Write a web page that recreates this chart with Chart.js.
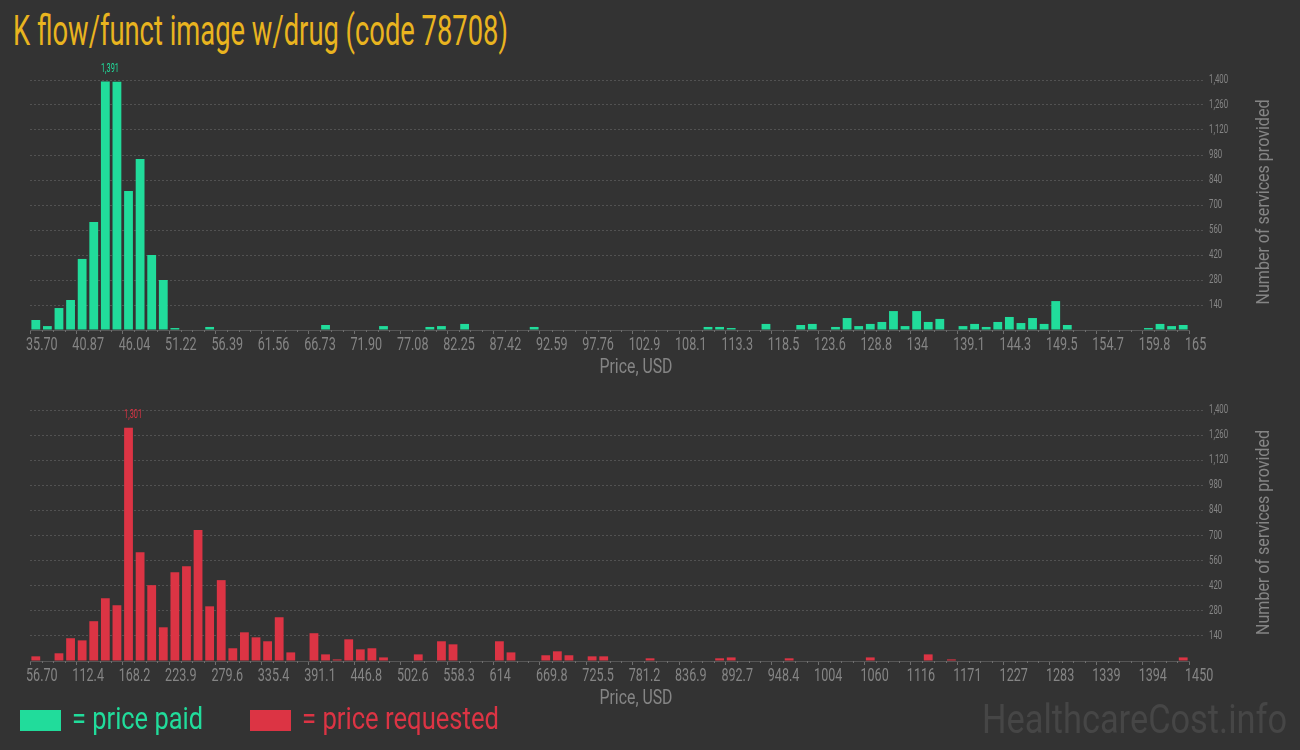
<!DOCTYPE html>
<html>
<head>
<meta charset="utf-8">
<script src="https://cdn.jsdelivr.net/npm/chart.js@4.4.1/dist/chart.umd.min.js"></script>
<style>
  html, body { margin: 0; padding: 0; background: #333333; }
  #page { position: relative; width: 1300px; height: 750px; overflow: hidden; background: #333333; font-family: Roboto, sans-serif; }
  .squeeze { position: absolute; white-space: nowrap; transform-origin: 0 0; }
  #title { left: 13px; top: 10px; font-size: 42px; line-height: 42px; color: #e9b41f; }
  #legPaid { left: 72px; top: 702px; font-size: 32px; line-height: 32px; color: #21dc9b; }
  #legReq { left: 302px; top: 702px; font-size: 32px; line-height: 32px; color: #dc3444; }
  #watermark { left: 982px; top: 700px; font-size: 40px; line-height: 40px; color: #464646; }
  .swatch { position: absolute; width: 41px; height: 21px; top: 710px; }
  canvas { position: absolute; left: 0; }
</style>
</head>
<body>
<div id="page">
  <div id="title" class="squeeze" data-fit="495">K flow/funct image w/drug (code 78708)</div>
  <canvas id="paidChart" width="1300" height="320" style="top:60px;width:1300px;height:320px"></canvas>
  <canvas id="requestedChart" width="1300" height="320" style="top:390px;width:1300px;height:320px"></canvas>
  <div class="swatch" style="left:20px;background:#21dc9b"></div>
  <div id="legPaid" class="squeeze" data-fit="131">= price paid</div>
  <div class="swatch" style="left:250px;background:#dc3444"></div>
  <div id="legReq" class="squeeze" data-fit="197">= price requested</div>
  <div id="watermark" class="squeeze" data-fit="305">HealthcareCost.info</div>
</div>
<script>
  "use strict";

  // price bins: 100 bins spread evenly between the first and last tick label
  const paidTickLabels = ["35.70", "40.87", "46.04", "51.22", "56.39", "61.56", "66.73", "71.90", "77.08", "82.25", "87.42", "92.59", "97.76", "102.9", "108.1", "113.3", "118.5", "123.6", "128.8", "134", "139.1", "144.3", "149.5", "154.7", "159.8", "165"];
  const paidCounts = [
    56, 22, 123, 168, 398, 605, 1391, 1390, 778, 958,
    420, 280, 11, 0, 0, 17, 0, 0, 0, 0,
    0, 0, 0, 0, 0, 28, 0, 0, 0, 0,
    22, 0, 0, 0, 17, 22, 0, 34, 0, 0,
    0, 0, 0, 17, 0, 0, 0, 0, 0, 0,
    0, 0, 0, 0, 0, 0, 0, 0, 17, 17,
    11, 0, 0, 34, 0, 0, 28, 34, 0, 17,
    67, 22, 34, 45, 106, 22, 106, 45, 62, 0,
    22, 34, 17, 45, 73, 39, 67, 34, 162, 28,
    0, 0, 0, 0, 0, 0, 11, 34, 22, 28,
  ];

  const requestedTickLabels = ["56.70", "112.4", "168.2", "223.9", "279.6", "335.4", "391.1", "446.8", "502.6", "558.3", "614", "669.8", "725.5", "781.2", "836.9", "892.7", "948.4", "1004", "1060", "1116", "1171", "1227", "1283", "1339", "1394", "1450"];
  const requestedCounts = [
    26, 0, 43, 127, 115, 222, 350, 311, 1301, 607,
    423, 188, 495, 529, 730, 305, 451, 71, 160, 132,
    110, 244, 48, 0, 155, 37, 9, 121, 65, 71,
    20, 0, 0, 37, 0, 110, 93, 0, 0, 0,
    110, 48, 0, 0, 32, 54, 32, 0, 26, 26,
    0, 0, 0, 15, 0, 0, 0, 0, 0, 15,
    20, 0, 0, 0, 0, 15, 0, 0, 0, 0,
    0, 0, 20, 0, 0, 0, 0, 37, 0, 9,
    0, 0, 0, 0, 0, 0, 0, 0, 0, 0,
    0, 0, 0, 0, 0, 0, 0, 0, 0, 20,
  ];

  const COUNT_MAX = 1400;
  const COUNT_STEP = 140;

  const PAID_COLOR = "#21dc9b";
  const REQUESTED_COLOR = "#dc3444";
  const AXIS_TEXT = "#858585";
  const GRID_COLOR = "#525252";
  const TICK_COLOR = "#6e6e6e";
  const BASELINE_COLOR = "#565656";
  const TICK_SQUEEZE = 0.68; // no condensed face installed, so squeeze Roboto

  function drawScaled(ctx, text, x, y, font, color, sx, align) {
    ctx.save();
    ctx.font = font;
    ctx.translate(x, y);
    ctx.scale(sx, 1);
    ctx.textAlign = align;
    ctx.textBaseline = "middle";
    ctx.fillStyle = color;
    ctx.fillText(text, 0, 0);
    ctx.restore();
  }

  // draws text squeezed horizontally so it spans targetWidth
  function drawSqueezed(ctx, text, x, y, font, color, targetWidth, align) {
    ctx.save();
    ctx.font = font;
    const w = ctx.measureText(text).width;
    ctx.restore();
    drawScaled(ctx, text, x, y, font, color, targetWidth / w, align);
  }

  const histogramDecor = {
    id: "histogramDecor",
    afterDraw(chart, args, opts) {
      const ctx = chart.ctx;
      const area = chart.chartArea;
      const xScale = chart.scales.x;
      const yScale = chart.scales.y;

      // minor ticks on every bin edge
      const bins = opts.bins;
      ctx.save();
      ctx.strokeStyle = TICK_COLOR;
      ctx.lineWidth = 1;
      ctx.beginPath();
      for (let k = 1; k < bins; k++) {
        if (k % opts.binsPerTick === 0) continue;
        const px = Math.round(xScale.getPixelForValue(opts.lo + (k * (opts.hi - opts.lo)) / bins)) + 0.5;
        ctx.moveTo(px, area.bottom);
        ctx.lineTo(px, area.bottom + 2);
      }
      ctx.stroke();
      ctx.restore();

      // tick labels, condensed
      xScale.ticks.forEach((t, i) => {
        drawScaled(ctx, opts.tickLabels[i], xScale.getPixelForTick(i) - 4, area.bottom + 15, "18.5px Roboto", AXIS_TEXT, TICK_SQUEEZE, "left");
      });
      yScale.ticks.forEach((t, i) => {
        if (t.value === 0) return;
        drawScaled(ctx, t.value.toLocaleString("en-US"), area.right + 20, yScale.getPixelForTick(i), "12px Roboto", AXIS_TEXT, 0.65, "left");
      });

      // value above the tallest bar
      const values = chart.data.datasets[0].data.map((p) => p.y);
      const top = Math.max(...values);
      const bar = chart.getDatasetMeta(0).data[values.indexOf(top)];
      drawSqueezed(ctx, top.toLocaleString("en-US"), bar.x - bar.width / 2, bar.y - 13, "13px Roboto", opts.color, 18, "left");

      // axis titles
      drawSqueezed(ctx, "Price, USD", chart.width / 2 - 14, area.bottom + 38, "20px Roboto", AXIS_TEXT, 73, "center");
      ctx.save();
      ctx.translate(1264, (area.top + area.bottom) / 2 - 3);
      ctx.rotate(-Math.PI / 2);
      drawSqueezed(ctx, "Number of services provided", 0, 0, "19px Roboto", AXIS_TEXT, 205, "center");
      ctx.restore();
    },
  };

  function buildHistogram(canvasId, counts, tickLabels, color, axisHeight) {
    const lo = parseFloat(tickLabels[0]);
    const hi = parseFloat(tickLabels[tickLabels.length - 1]);
    const binWidth = (hi - lo) / counts.length;
    const majorStep = (hi - lo) / (tickLabels.length - 1);
    const points = counts.map((c, i) => ({ x: lo + binWidth * (i + 0.5), y: c }));

    return new Chart(document.getElementById(canvasId), {
      type: "bar",
      data: {
        datasets: [
          {
            data: points,
            backgroundColor: color,
            borderWidth: 0,
            barPercentage: 0.76,
            categoryPercentage: 1,
          },
        ],
      },
      options: {
        responsive: false,
        maintainAspectRatio: false,
        animation: false,
        events: [],
        layout: { padding: { top: 20, left: 30, right: 0, bottom: 0 } },
        plugins: {
          legend: { display: false },
          tooltip: { enabled: false },
          histogramDecor: {
            color,
            lo,
            hi,
            tickLabels,
            bins: counts.length,
            binsPerTick: counts.length / (tickLabels.length - 1),
          },
        },
        scales: {
          x: {
            type: "linear",
            min: lo,
            max: hi,
            offset: false,
            afterBuildTicks: (axis) => {
              axis.ticks = tickLabels.map((_, k) => ({ value: lo + majorStep * k }));
            },
            afterFit: (axis) => {
              axis.height = axisHeight;
            },
            ticks: {
              display: false,
              autoSkip: false,
              callback: (value, index) => tickLabels[index],
            },
            grid: {
              offset: false,
              drawOnChartArea: false,
              drawTicks: true,
              tickLength: 4,
              tickColor: TICK_COLOR,
            },
            border: { color: BASELINE_COLOR, width: 1 },
          },
          y: {
            position: "right",
            min: 0,
            max: COUNT_MAX,
            afterFit: (axis) => {
              axis.width = 111;
            },
            ticks: {
              display: false,
              stepSize: COUNT_STEP,
            },
            grid: {
              color: (ctx) => (ctx.tick && ctx.tick.value === 0 ? "rgba(0,0,0,0)" : GRID_COLOR),
              tickColor: (ctx) => (ctx.tick && ctx.tick.value === 0 ? "rgba(0,0,0,0)" : GRID_COLOR),
              lineWidth: 1,
              drawTicks: true,
              tickLength: 16,
              tickBorderDash: [2, 2],
            },
            border: { display: false, dash: [2, 2] },
          },
        },
      },
      plugins: [histogramDecor],
    });
  }

  function fitSqueezedText() {
    document.querySelectorAll(".squeeze").forEach((el) => {
      const natural = el.getBoundingClientRect().width;
      const target = parseFloat(el.dataset.fit);
      el.style.transform = "scaleX(" + (target / natural).toFixed(4) + ")";
    });
  }

  fitSqueezedText();
  buildHistogram("paidChart", paidCounts, paidTickLabels, PAID_COLOR, 50);
  buildHistogram("requestedChart", requestedCounts, requestedTickLabels, REQUESTED_COLOR, 49);
</script>
</body>
</html>
